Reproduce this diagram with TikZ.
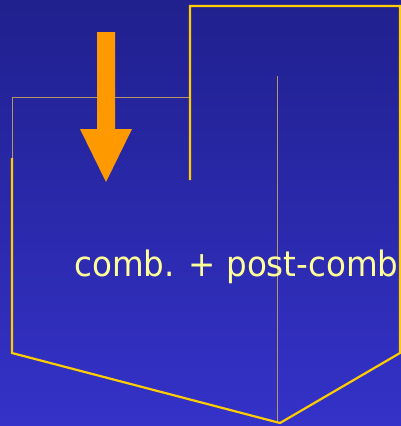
\documentclass[tikz,border=0pt]{standalone}
\usepackage{fontspec}
\usepackage{graphicx}
\newfontfamily\labelfont{DejaVu Sans}
\definecolor{bgtop}{RGB}{32,32,142}
\definecolor{bgbot}{RGB}{52,50,200}
\definecolor{wallyellow}{RGB}{255,204,0}
\definecolor{thintan}{RGB}{180,150,100}
\definecolor{arroworange}{RGB}{255,153,0}
\definecolor{textyellow}{RGB}{255,255,153}
\tikzset{
  wall/.style={draw=wallyellow, line width=2.2pt, line join=miter},
  thinwall/.style={draw=thintan, line width=1pt},
  bigarrow/.style={fill=arroworange, draw=none},
  caption/.style={text=textyellow, font=\labelfont\fontsize{35}{38}\selectfont, inner sep=0pt}
}
\begin{document}
\begin{tikzpicture}[x=1pt,y=-1pt]
\useasboundingbox (0,0) rectangle (401,426);
\shade[top color=bgtop, bottom color=bgbot] (0,0) rectangle (401,426);
% thin lines
\draw[thinwall] (12,158) -- (12,97) -- (190,97);
\draw[thinwall] (277,76) -- (277,422);
% thick yellow outline
\draw[wall] (190,180) -- (190,6) -- (400,6) -- (400,353) -- (280,423) -- (12,353) -- (12,158);
% orange arrow
\fill[bigarrow] (97,32) -- (115,32) -- (115,129) -- (132,129) -- (106,182) -- (80,129) -- (97,129) -- cycle;
% label
\node[caption, anchor=base] (lbl) at (236.5,276) {\scalebox{0.93}[1]{comb. + post-comb}};
\end{tikzpicture}
\end{document}
